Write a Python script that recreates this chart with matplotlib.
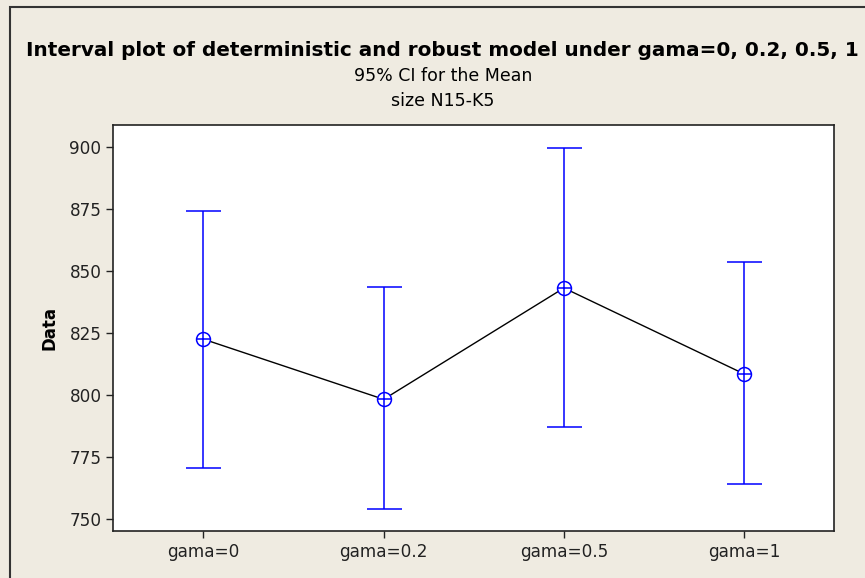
import numpy as np
import matplotlib
matplotlib.use("Agg")
import matplotlib.pyplot as plt
from matplotlib.patches import Rectangle

plt.rcParams["font.family"] = ["DejaVu Sans"]

# Valores (IC 95% de la media)
labels = ["gama=0", "gama=0.2", "gama=0.5", "gama=1"]
means = [822.5, 798.3, 843.1, 808.5]
upper = [874.2, 843.4, 899.5, 853.6]
lower = [770.8, 754.0, 787.2, 764.1]
yticks = [750, 775, 800, 825, 850, 875, 900]

BG = "#EFEBE1"
BLUE = "#0000FF"

fig = plt.figure(figsize=(8.65, 5.78), dpi=100, facecolor=BG)
ax = fig.add_axes([0.131, 0.0818, 0.8335, 0.7019])

x = np.arange(len(labels))
m = np.array(means)
err = [m - np.array(lower), np.array(upper) - m]

ax.plot(x, m, color="black", lw=1.0, zorder=2)
ax.errorbar(x, m, yerr=err, fmt="none", ecolor=BLUE, elinewidth=1.1,
            capsize=12.6, capthick=1.1, zorder=3)
ax.plot(x, m, "o", ms=10, mfc="white", mec=BLUE, mew=1.1, zorder=4)
ax.plot(x, m, "+", ms=10, mec=BLUE, mew=1.1, zorder=5)

ax.set_xlim(-0.5, 3.5)
ax.set_ylim(745.4, 908.7)
ax.set_xticks(x)
ax.set_xticklabels(labels)
ax.set_yticks(yticks)
ax.tick_params(axis="both", labelsize=12.2, length=5, width=1, color="#222222",
               labelcolor="#222222")
ax.set_ylabel("Data", fontsize=12, fontweight="bold", labelpad=8)
for s in ax.spines.values():
    s.set_linewidth(1.2)
    s.set_color("#222222")

fig.text(442 / 865, 1 - 51 / 578,
         "Interval plot of deterministic and robust model under gama=0, 0.2, 0.5, 1",
         ha="center", va="center", fontsize=14.4, fontweight="bold")
fig.text(443 / 865, 1 - 76 / 578, "95% CI for the Mean",
         ha="center", va="center", fontsize=12.5)
fig.text(443 / 865, 1 - 101 / 578, "size N15-K5",
         ha="center", va="center", fontsize=12.5)

# borde exterior (recortado a la derecha y abajo)
fig.add_artist(Rectangle((10 / 865, -0.1), 2, 1 - 7 / 578 + 0.1,
                         transform=fig.transFigure, fill=False,
                         ec="#333333", lw=1.5))

fig.savefig("out.png", dpi=100, facecolor=BG)
